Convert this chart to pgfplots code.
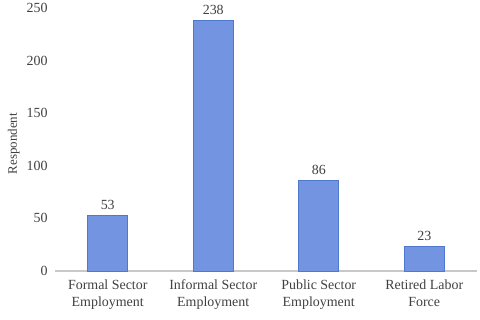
\documentclass[border=0pt]{standalone}
\usepackage{pgfplots}
\pgfplotsset{compat=1.18}
\usepackage{fontspec}
\setmainfont{Liberation Serif}
\definecolor{barfill}{RGB}{114,148,225}
\definecolor{baredge}{RGB}{80,120,205}
\definecolor{txt}{RGB}{64,64,64}
\definecolor{axl}{RGB}{200,200,200}
\begin{document}
\begin{tikzpicture}
\begin{axis}[
  scale only axis,
  width=422bp, height=263bp,
  xmin=-0.5, xmax=3.5, ymin=0, ymax=250,
  ytick={0,50,100,150,200,250},
  xtick={0,1,2,3},
  xticklabels={{Formal Sector\\Employment},{Informal Sector\\Employment},{Public Sector\\Employment},{Retired Labor\\Force}},
  xticklabel style={align=center, font=\fontsize{14}{17}\selectfont, text=txt, yshift=-5bp},
  yticklabel style={font=\fontsize{14}{15}\selectfont, text=txt, xshift=-4bp},
  /pgf/number format/assume math mode=true,
  major tick length=0pt,
  axis x line*=bottom,
  axis y line*=left,
  y axis line style={draw=none},
  x axis line style={draw=axl, line width=1.2bp, -},
  ylabel={Respondent},
  ylabel style={font=\fontsize{13}{15}\selectfont, text=txt},
  every axis y label/.append style={at={(ticklabel cs:0.5)}, anchor=south, xshift=-4bp},
  ybar, bar width=40bp,
  nodes near coords,
  nodes near coords style={font=\fontsize{14}{15}\selectfont, text=txt, yshift=2bp},
  clip=false,
]
\addplot[fill=barfill, draw=baredge, line width=0.8bp] coordinates {(0,53) (1,238) (2,86) (3,23)};
\end{axis}
\path ([shift={(-55bp,-48bp)}]current axis.south west) rectangle ([shift={(3bp,8bp)}]current axis.north east);
\end{tikzpicture}
\end{document}
